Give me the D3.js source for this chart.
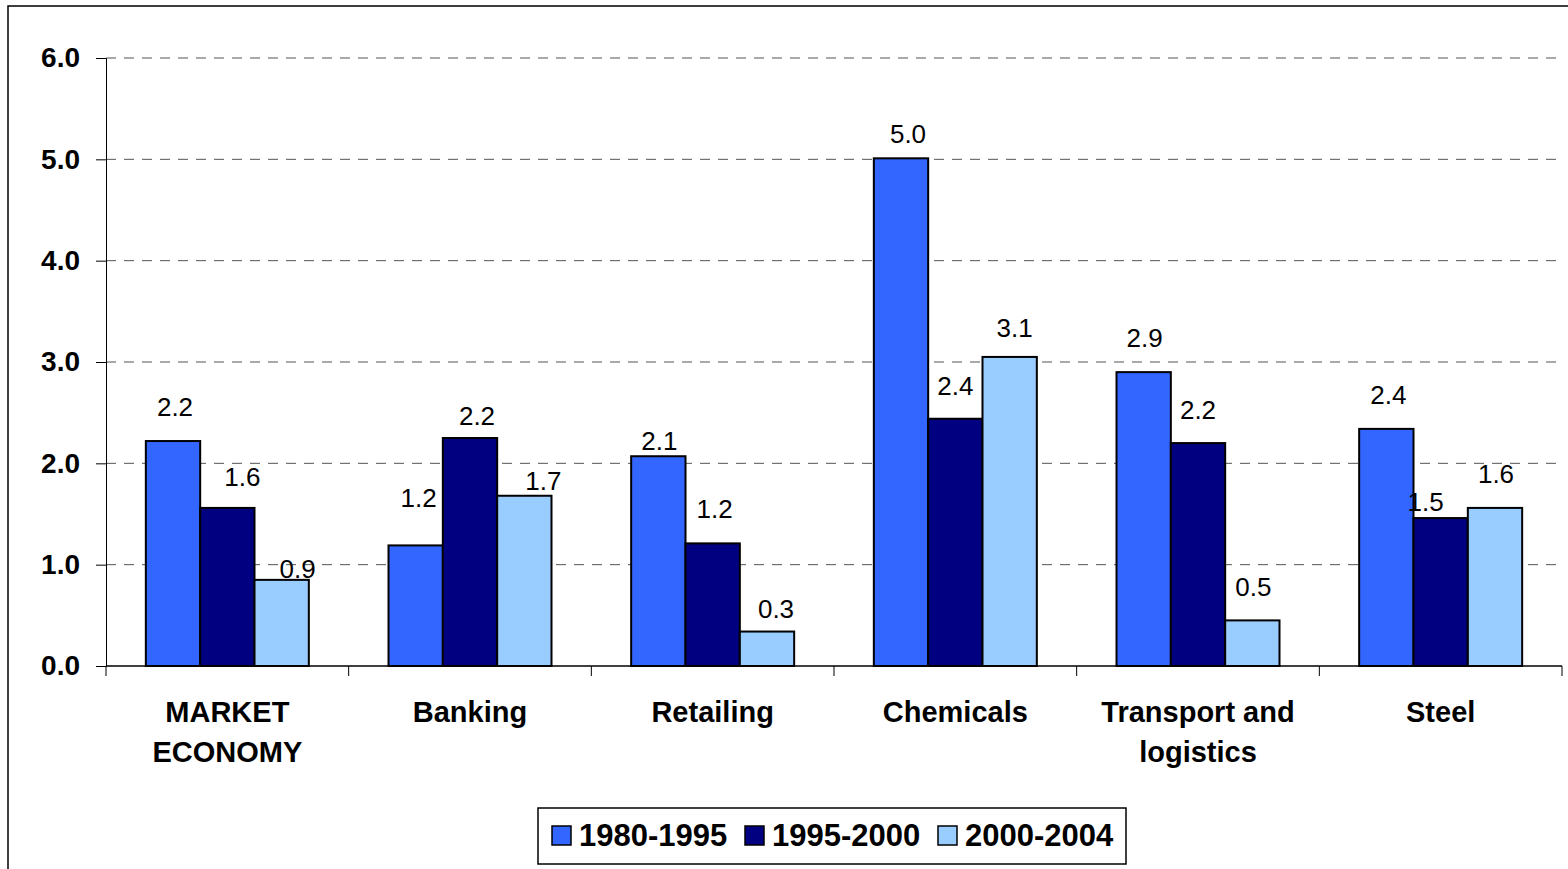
<!DOCTYPE html>
<html>
<head>
<meta charset="utf-8">
<script src="https://cdn.jsdelivr.net/npm/d3@7"></script>
<style>
  body { margin: 0; background: #fff; }
  svg { font-family: "Liberation Sans", Arial, sans-serif; }
</style>
</head>
<body>
<div id="chart"></div>
<script>
// data
const categories = [["MARKET", "ECONOMY"], ["Banking"], ["Retailing"], ["Chemicals"], ["Transport and", "logistics"], ["Steel"]];
const series = ["1980-1995", "1995-2000", "2000-2004"];
const v1980 = [2.22, 1.19, 2.07, 5.01, 2.90, 2.34];
const v1995 = [1.56, 2.25, 1.21, 2.44, 2.20, 1.46];
const v2000 = [0.85, 1.68, 0.34, 3.05, 0.45, 1.56];
const labels1980 = ["2.2", "1.2", "2.1", "5.0", "2.9", "2.4"];
const labels1995 = ["1.6", "2.2", "1.2", "2.4", "2.2", "1.5"];
const labels2000 = ["0.9", "1.7", "0.3", "3.1", "0.5", "1.6"];
const yTicks = [0, 1, 2, 3, 4, 5, 6];

const colors = ["#3366FF", "#000080", "#99CCFF"];
// hand placed label nudges [dx, dy] from bar centre / top
const nudge = [
  [[2, -34], [3, -48], [1, -15], [7, -24], [1, -34], [2, -34]],
  [[15, -31], [7, -22], [2, -34], [0, -33], [0, -33], [-15, -16]],
  [[16, -11], [19, -15], [9, -23], [5, -29], [1, -34], [1, -34]]
];

const W = 1568, H = 869;
const svg = d3.select("#chart").append("svg").attr("width", W).attr("height", H);

// outer frame
svg.append("rect").attr("x", 8).attr("y", 6).attr("width", W + 20).attr("height", H + 20)
  .attr("fill", "none").attr("stroke", "#000").attr("stroke-width", 1.5);

const mLeft = 106, mRight = 1562, mTop = 58, mBottom = 666;
const x = d3.scaleBand().domain(d3.range(categories.length)).range([mLeft, mRight]);
const inner = d3.scaleBand().domain(d3.range(series.length)).range([0, 163]);
const y = d3.scaleLinear().domain([0, 6]).range([mBottom, mTop]);

// grid
svg.append("g").selectAll("line").data(yTicks.slice(1)).join("line")
  .attr("x1", mLeft).attr("x2", mRight)
  .attr("y1", d => y(d)).attr("y2", d => y(d))
  .attr("stroke", "#555").attr("stroke-width", 1).attr("stroke-dasharray", "10,8");

// y axis
const yAxis = svg.append("g").attr("transform", `translate(${mLeft},0)`)
  .call(d3.axisLeft(y).tickValues(yTicks).tickFormat(d3.format(".1f")).tickSize(10).tickPadding(16));
yAxis.select(".domain").attr("stroke", "#000");
yAxis.selectAll("text").attr("font-size", 28).attr("font-weight", "bold").attr("fill", "#000")
  .attr("font-family", "Liberation Sans, Arial, sans-serif");

// bars
const allVals = [v1980, v1995, v2000];
const allLabels = [labels1980, labels1995, labels2000];
const groupOffset = (x.bandwidth() - 163) / 2;
allVals.forEach((vals, s) => {
  svg.append("g").selectAll("rect").data(vals).join("rect")
    .attr("x", (d, i) => x(i) + groupOffset + inner(s))
    .attr("width", inner.bandwidth())
    .attr("y", d => y(d))
    .attr("height", d => y(0) - y(d))
    .attr("fill", colors[s]).attr("stroke", "#000").attr("stroke-width", 2);
});

// x axis
svg.append("line").attr("x1", mLeft).attr("x2", mRight).attr("y1", mBottom).attr("y2", mBottom)
  .attr("stroke", "#000").attr("stroke-width", 1.5);
svg.append("g").selectAll("line").data(d3.range(categories.length + 1)).join("line")
  .attr("x1", d => mLeft + d * x.step()).attr("x2", d => mLeft + d * x.step())
  .attr("y1", mBottom).attr("y2", mBottom + 10).attr("stroke", "#000");

// value labels
allLabels.forEach((labs, s) => {
  svg.append("g").selectAll("text").data(labs).join("text")
    .attr("x", (d, i) => x(i) + groupOffset + inner(s) + inner.bandwidth() / 2 + nudge[s][i][0])
    .attr("y", (d, i) => y(allVals[s][i]) + nudge[s][i][1])
    .attr("dy", "0.35em").attr("text-anchor", "middle")
    .attr("font-size", 26).attr("fill", "#000").text(d => d);
});

// category labels
const cat = svg.append("g").selectAll("text").data(categories).join("text")
  .attr("text-anchor", "middle").attr("font-size", 29).attr("font-weight", "bold");
cat.selectAll("tspan").data((d, i) => d.map(t => ({ t, i }))).join("tspan")
  .attr("x", d => x(d.i) + x.bandwidth() / 2)
  .attr("y", (d, j) => 722 + j * 40)
  .text(d => d.t);

// legend
const lg = svg.append("g");
lg.append("rect").attr("x", 538).attr("y", 808).attr("width", 588).attr("height", 56)
  .attr("fill", "#fff").attr("stroke", "#000").attr("stroke-width", 1.5);
const legX = [552, 745, 938];
series.forEach((s, i) => {
  lg.append("rect").attr("x", legX[i]).attr("y", 826).attr("width", 19).attr("height", 19)
    .attr("fill", colors[i]).attr("stroke", "#000").attr("stroke-width", 1.5);
  lg.append("text").attr("x", legX[i] + 27).attr("y", 846)
    .attr("font-size", 31).attr("font-weight", "bold").text(s);
});
</script>
</body>
</html>
